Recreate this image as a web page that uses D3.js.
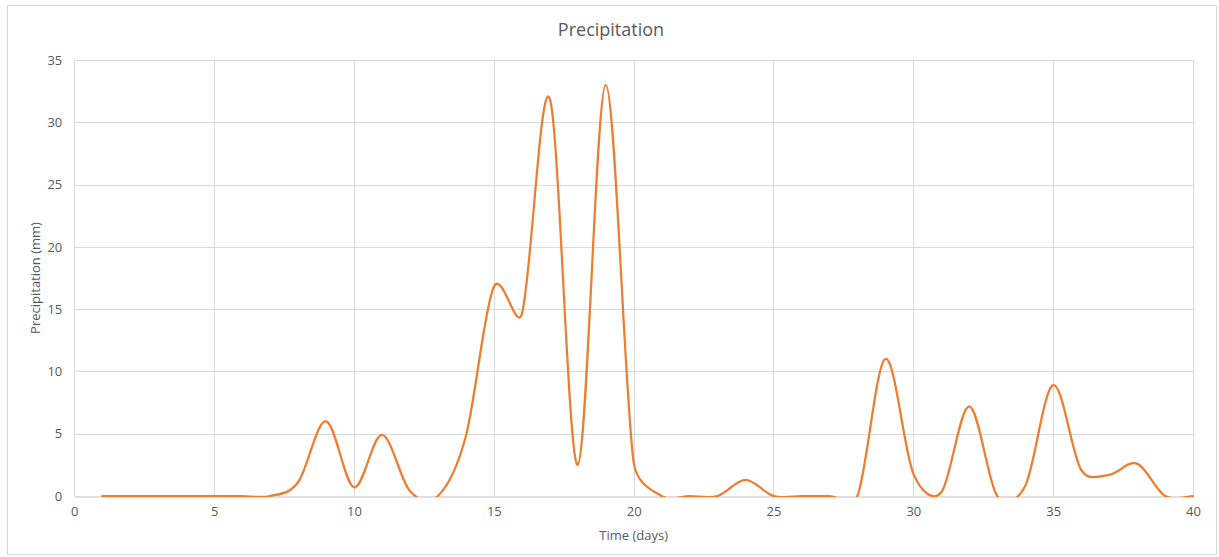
<!DOCTYPE html>
<html>
<head>
<meta charset="utf-8">
<script src="https://cdn.jsdelivr.net/npm/d3@7"></script>
<style>
  html, body { margin: 0; padding: 0; background: #fff; }
  svg { display: block; }
  text { font-family: "Open Sans", "Noto Sans", sans-serif; fill: #595959; }
</style>
</head>
<body>
<svg id="chart" width="1219" height="557"></svg>
<script>
const days = [1,2,3,4,5,6,7,8,9,10,11,12,13,14,15,16,17,18,19,20,21,22,23,24,25,26,27,28,29,30,31,32,33,34,35,36,37,38,39,40];
const precipitation = [0,0,0,0,0,0,0,1.1,6.0,0.7,4.9,0.4,0,4.8,16.8,14.6,31.9,2.5,33.0,2.7,0,0,0,1.3,0,0,0,0,11.0,1.8,0.3,7.2,0,0.8,8.9,2.1,1.7,2.6,0,0];
const xTicks = [0,5,10,15,20,25,30,35,40];
const yTicks = [0,5,10,15,20,25,30,35];
const title = "Precipitation";
const xTitle = "Time (days)";
const yTitle = "Precipitation (mm)";

// Excel-style smoothed line curve (Bezier with 1/6 tangents, limited to half segment length)
function ExcelCurve(context) { this._context = context; }
ExcelCurve.prototype = {
  areaStart() {}, areaEnd() {},
  lineStart() { this._pts = []; },
  point(x, y) { this._pts.push([+x, +y]); },
  lineEnd() {
    const p = this._pts, n = p.length, c = this._context;
    if (!n) return;
    c.moveTo(p[0][0], p[0][1]);
    const dist = (a, b) => Math.hypot(b[0] - a[0], b[1] - a[1]);
    for (let i = 0; i < n - 1; i++) {
      const p0 = p[i - 1] || p[i], p1 = p[i], p2 = p[i + 1], p3 = p[i + 2] || p[i + 1];
      const d12 = dist(p1, p2), d02 = dist(p0, p2), d13 = dist(p1, p3);
      let f0 = 1 / 6, f1 = 1 / 6;
      if (d02 * f0 > d12 / 2 && d02 > 0) f0 = d12 / (2 * d02);
      if (d13 * f1 > d12 / 2 && d13 > 0) f1 = d12 / (2 * d13);
      const c1 = [p1[0] + f0 * (p2[0] - p0[0]), p1[1] + f0 * (p2[1] - p0[1])];
      const c2 = [p2[0] - f1 * (p3[0] - p1[0]), p2[1] - f1 * (p3[1] - p1[1])];
      c.bezierCurveTo(c1[0], c1[1], c2[0], c2[1], p2[0], p2[1]);
    }
  }
};
const curveExcel = ctx => new ExcelCurve(ctx);

const svg = d3.select("#chart");
const plot = { left: 74.3, right: 1193, top: 60, bottom: 496 };

// chart area border
svg.append("rect").attr("x", 7.5).attr("y", 5.5).attr("width", 1209).attr("height", 549)
  .attr("fill", "#fff").attr("stroke", "#d9d9d9").attr("stroke-width", 1);

const x = d3.scaleLinear().domain([0, 40]).range([plot.left, plot.right]);
const y = d3.scaleLinear().domain([0, 35]).range([plot.bottom, plot.top]);

// gridlines
const grid = svg.append("g");
grid.selectAll("line.h").data(yTicks.filter(d => d > 0)).enter().append("line")
  .attr("x1", plot.left).attr("x2", plot.right)
  .attr("y1", d => Math.round(y(d)) + 0.5).attr("y2", d => Math.round(y(d)) + 0.5)
  .attr("stroke", "#d9d9d9").attr("stroke-width", 1);
grid.selectAll("line.v").data(xTicks).enter().append("line")
  .attr("y1", plot.top).attr("y2", plot.bottom)
  .attr("x1", d => Math.round(x(d)) + 0.5).attr("x2", d => Math.round(x(d)) + 0.5)
  .attr("stroke", "#d9d9d9").attr("stroke-width", 1);

// x axis
const xAxis = d3.axisBottom(x).tickValues(xTicks).tickSize(0).tickPadding(10);
const gx = svg.append("g").attr("transform", `translate(0,${Math.round(plot.bottom) + 0.5})`).call(xAxis);
gx.select(".domain").attr("stroke", "#bfbfbf").attr("stroke-width", 1);
gx.selectAll("text").style("font-size", "13px").attr("fill", "#595959");

// y axis
const yAxis = d3.axisLeft(y).tickValues(yTicks).tickSize(0).tickPadding(12);
const gy = svg.append("g").attr("transform", `translate(${plot.left},0)`).call(yAxis);
gy.select(".domain").remove();
gy.selectAll("text").style("font-size", "13px").attr("fill", "#595959");

// clip
svg.append("clipPath").attr("id", "clip").append("rect")
  .attr("x", plot.left).attr("y", plot.top - 2)
  .attr("width", plot.right - plot.left + 2).attr("height", plot.bottom - plot.top + 3);

const line = d3.line()
  .x((d, i) => x(days[i]))
  .y(d => y(d))
  .curve(curveExcel);

svg.append("path").datum(precipitation)
  .attr("clip-path", "url(#clip)")
  .attr("d", line)
  .attr("fill", "none")
  .attr("stroke", "#ED7D31")
  .attr("stroke-width", 2.25)
  .attr("stroke-linejoin", "round")
  .attr("stroke-linecap", "round");

// titles
svg.append("text").attr("x", 611).attr("y", 36).attr("text-anchor", "middle")
  .style("font-size", "18px").text(title);
svg.append("text").attr("x", (plot.left + plot.right) / 2).attr("y", 540).attr("text-anchor", "middle")
  .style("font-size", "13px").text(xTitle);
svg.append("text")
  .attr("transform", `translate(40,${(plot.top + plot.bottom) / 2}) rotate(-90)`)
  .attr("text-anchor", "middle")
  .style("font-size", "13px").text(yTitle);
</script>
</body>
</html>
